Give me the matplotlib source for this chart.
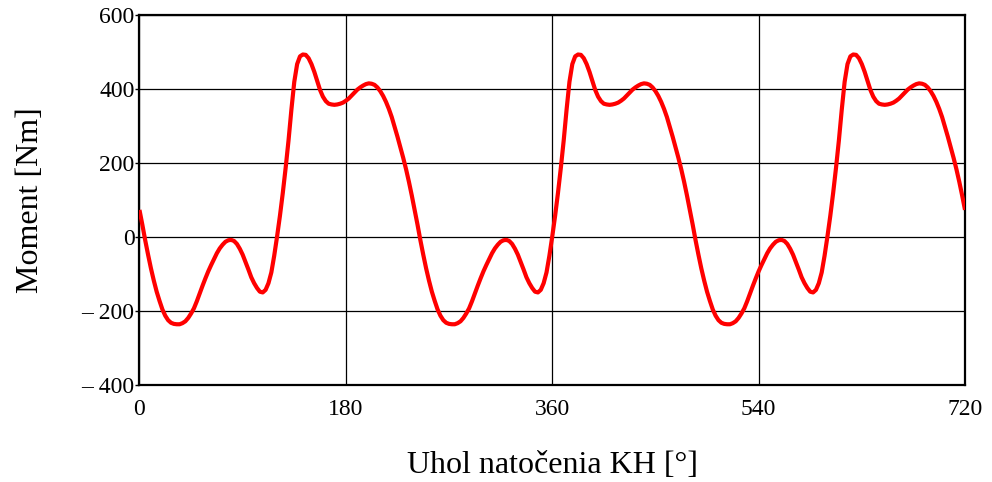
"""Torque vs. crank angle (Moment vs. Uhol natočenia KH)."""

import numpy as np
import matplotlib.pyplot as plt
from matplotlib.ticker import FuncFormatter

# crank angle samples [deg], every 2.5 degrees over two revolutions
angle = np.arange(0, 720.1, 2.5)

# torque [Nm]; the 240 deg pattern repeats three times
moment = [
    # 0 .. 237.5
    74, 34, -8, -47, -84, -117, -147, -172, -195, -212, -224, -231,
    -234, -235, -235, -232, -227, -218, -206, -192, -173, -152, -131, -111,
    -92, -75, -59, -43, -30, -20, -12, -8, -7, -10, -18, -31,
    -47, -67, -87, -108, -124, -137, -147, -149, -142, -124, -95, -50,
    2, 58, 120, 188, 262, 345, 420, 468, 489, 494, 493, 484,
    468, 447, 422, 398, 380, 368, 361, 359, 358, 359, 361, 364,
    369, 375, 383, 391, 399, 405, 410, 414, 416, 415, 412, 405,
    395, 382, 366, 347, 325, 299, 272, 244, 215, 184, 150, 113,
    # 240 .. 477.5
    74, 34, -8, -47, -84, -117, -147, -172, -195, -212, -224, -231,
    -234, -235, -235, -232, -227, -218, -206, -192, -173, -152, -131, -111,
    -92, -75, -59, -43, -30, -20, -12, -8, -7, -10, -18, -31,
    -47, -67, -87, -108, -124, -137, -147, -149, -142, -124, -95, -50,
    2, 58, 120, 188, 262, 345, 420, 468, 489, 494, 493, 484,
    468, 447, 422, 398, 380, 368, 361, 359, 358, 359, 361, 364,
    369, 375, 383, 391, 399, 405, 410, 414, 416, 415, 412, 405,
    395, 382, 366, 347, 325, 299, 272, 244, 215, 184, 150, 113,
    # 480 .. 720
    74, 34, -8, -47, -84, -117, -147, -172, -195, -212, -224, -231,
    -234, -235, -235, -232, -227, -218, -206, -192, -173, -152, -131, -111,
    -92, -75, -59, -43, -30, -20, -12, -8, -7, -10, -18, -31,
    -47, -67, -87, -108, -124, -137, -147, -149, -142, -124, -95, -50,
    2, 58, 120, 188, 262, 345, 420, 468, 489, 494, 493, 484,
    468, 447, 422, 398, 380, 368, 361, 359, 358, 359, 361, 364,
    369, 375, 383, 391, 399, 405, 410, 414, 416, 415, 412, 405,
    395, 382, 366, 347, 325, 299, 272, 244, 215, 184, 150, 113,
    74,
]

x_ticks = [0, 180, 360, 540, 720]
y_ticks = [-400, -200, 0, 200, 400, 600]

plt.rcParams["font.family"] = ["Liberation Serif", "DejaVu Serif"]

fig = plt.figure(figsize=(9.92, 4.82), dpi=100)
ax = fig.add_axes([0.1406, 0.2006, 0.8322, 0.7677])

ax.plot(angle, moment, color="#ff0000", lw=3, solid_joinstyle="round",
        solid_capstyle="butt", zorder=3)

ax.set_xlim(0, 720)
ax.set_ylim(-400, 600)
ax.set_xticks(x_ticks)
ax.set_yticks(y_ticks)
ax.yaxis.set_major_formatter(
    FuncFormatter(lambda v, _: f"\u2013 {abs(int(v))}" if v < 0 else f"{int(v)}"))

ax.grid(True, color="black", lw=0.9)
ax.tick_params(axis="x", length=0, pad=10, labelsize=17)
ax.tick_params(axis="y", length=3, width=1, pad=0.5, labelsize=17)
for sp in ax.spines.values():
    sp.set_linewidth(1.6)

ax.set_xlabel("Uhol natočenia KH [°]", fontsize=23, labelpad=22)
ax.set_ylabel("Moment [Nm]", fontsize=23, labelpad=26)

fig.savefig("out.png", dpi=100)
